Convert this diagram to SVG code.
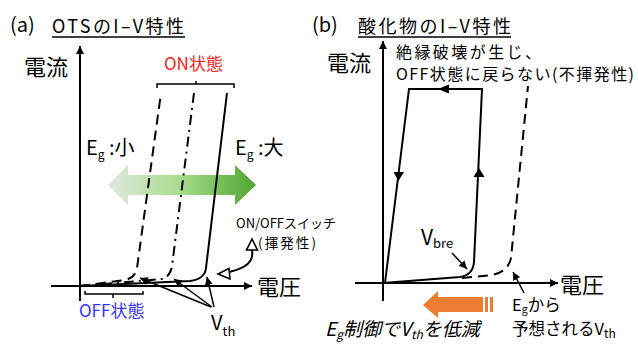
<svg xmlns="http://www.w3.org/2000/svg" width="638" height="344" viewBox="0 0 638 344">
<style>
text{font-family:"Noto Sans CJK JP","Liberation Sans",sans-serif;fill:#000}
.ax{stroke:#000;stroke-width:2;fill:none}
.ln{stroke:#000;stroke-width:2;fill:none}
.th{stroke:#000;stroke-width:1.5;fill:none}
.dash{stroke-dasharray:10 6}
.dd{stroke-dasharray:10 5 2 5}
</style>
<defs>
<marker id="ah" viewBox="0 0 10 10" refX="10" refY="5" markerWidth="8" markerHeight="8" markerUnits="userSpaceOnUse" orient="auto">
<path d="M0,0 L10,5 L0,10 z" fill="#000"/>
</marker>
<linearGradient id="g" x1="0" y1="0" x2="1" y2="0">
<stop offset="0" stop-color="#e2e8df"/>
<stop offset="0.5" stop-color="#a6dc8a"/>
<stop offset="1" stop-color="#4ea52f"/>
</linearGradient>
</defs>

<!-- Panel (a) -->
<g id="title-a">
<text x="10" y="32" font-size="20">(a)</text>
<text x="52" y="33" font-size="18" textLength="132" lengthAdjust="spacing">OTSのI–V特性</text>
<line x1="52" y1="37" x2="185" y2="37" stroke="#000" stroke-width="1.3"/>
</g>
<g id="axes-a">
<line class="ax" x1="80" y1="301" x2="80" y2="46" marker-end="url(#ah)"/>
<line class="ax" x1="51" y1="286" x2="252" y2="286" marker-end="url(#ah)"/>
<text x="24" y="75" font-size="22">電流</text>
<text x="257" y="295" font-size="22">電圧</text>
</g>
<g id="on-state">
<text x="164" y="70" font-size="17" style="fill:#ff2020">ON状態</text>
<path class="th" d="M157 88 L157 84 L234 84 L234 88 M196 84 L196 81"/>
</g>
<g id="eg-small"><text x="86" y="155" font-size="20">E<tspan font-size="12" dy="4">g</tspan><tspan dy="-4"> :小</tspan></text></g>
<g id="eg-large"><text x="235" y="155" font-size="20">E<tspan font-size="12" dy="4">g</tspan><tspan dy="-4"> :大</tspan></text></g>
<g id="green-arrow">
<polygon points="108,185 128,165 128,175 235,175 235,165 256,185 235,205 235,195 128,195 128,205" fill="url(#g)"/>
</g>
<g id="curves-a">
<path class="ln dash" d="M80 286 L125 280 Q135 278 137 268 L161 93"/>
<path class="ln dd" d="M80 286 L162 279 Q170 277 172 266 L194 93"/>
<path class="ln" d="M80 286 L190 281 Q205 279 206 268 L227 93"/>
</g>
<g id="off-state">
<path class="th" d="M85 291 L85 294 L143 294 L143 291 M113 294 L113 298"/>
<text x="79" y="317" font-size="17" style="fill:#3333ff">OFF状態</text>
</g>
<g id="vth-a">
<text x="211" y="330" font-size="20">V<tspan font-size="13" dy="6">th</tspan></text>
<line class="th" x1="211" y1="307" x2="140" y2="278" marker-end="url(#ah)"/>
<line class="th" x1="212" y1="307" x2="174" y2="279" marker-end="url(#ah)"/>
<line class="th" x1="214" y1="307" x2="207" y2="277" marker-end="url(#ah)"/>
</g>
<g id="switch">
<text x="236" y="228" font-size="13">ON/OFFスイッチ</text>
<text x="258" y="248" font-size="13.5" textLength="58" lengthAdjust="spacing">(揮発性)</text>
<path d="M252 250 C254 262 246 268 229 272" stroke="#000" stroke-width="2" fill="none"/>
<polygon points="252,239 246.5,250 257.5,250" fill="#fff" stroke="#000" stroke-width="1.6"/>
<polygon points="218,274 229,268.5 230,279" fill="#fff" stroke="#000" stroke-width="1.6"/>
</g>

<!-- Panel (b) -->
<g id="title-b">
<text x="312" y="32" font-size="20">(b)</text>
<text x="358" y="33" font-size="18" textLength="153" lengthAdjust="spacing">酸化物のI–V特性</text>
<line x1="358" y1="37" x2="511" y2="37" stroke="#000" stroke-width="1.3"/>
</g>
<g id="axes-b">
<line class="ax" x1="383" y1="301" x2="383" y2="41" marker-end="url(#ah)"/>
<line class="ax" x1="355" y1="283" x2="558" y2="283" marker-end="url(#ah)"/>
<text x="327" y="71" font-size="22">電流</text>
<text x="560" y="293" font-size="22">電圧</text>
</g>
<g id="breakdown-note">
<text x="396" y="58" font-size="16" textLength="145" lengthAdjust="spacing">絶縁破壊が生じ、</text>
<text x="396" y="80" font-size="16" textLength="238" lengthAdjust="spacing">OFF状態に戻らない(不揮発性)</text>
</g>
<g id="loop">
<path class="ln" d="M383 283 L460 277 Q473 275 474 262 L482 89 L409 89 L385 283"/>
<polygon points="438,89 449,84.5 449,93.5" fill="#000"/>
<polygon points="479,168 473.5,177 484.5,177" fill="#000"/>
<polygon points="398.5,181 393.5,172 404,172" fill="#000"/>
</g>
<g id="expected-curve">
<path class="ln dash" d="M462 278 L492 275 Q508 272 511 258 L528 86"/>
</g>
<g id="vbre">
<text x="421" y="245" font-size="21">V<tspan font-size="13" dy="3">bre</tspan></text>
<line class="th" x1="452" y1="253" x2="467" y2="269" marker-end="url(#ah)"/>
</g>
<g id="eg-expected">
<text x="512" y="311" font-size="16.5">E<tspan font-size="10.5" dy="2">g</tspan><tspan dy="-2">から</tspan></text>
<text x="512" y="335" font-size="16.5">予想されるV<tspan font-size="12" dy="3">th</tspan></text>
<line class="th" x1="524" y1="293" x2="513" y2="272" marker-end="url(#ah)"/>
</g>
<g id="orange-arrow">
<polygon points="423,305 438,291 438,297 483,297 483,312 438,312 438,318" fill="#ed7d31"/>
<rect x="485" y="297" width="3" height="15" fill="#ed7d31"/>
<rect x="490" y="297" width="3" height="15" fill="#ed7d31"/>
</g>
<g id="reduce-label">
<text x="325" y="336" font-size="19" font-style="italic">E<tspan font-size="12" dy="3">g</tspan><tspan dy="-3">制御でV</tspan><tspan font-size="12" dy="3">th</tspan><tspan dy="-3">を低減</tspan></text>
</g>
</svg>
